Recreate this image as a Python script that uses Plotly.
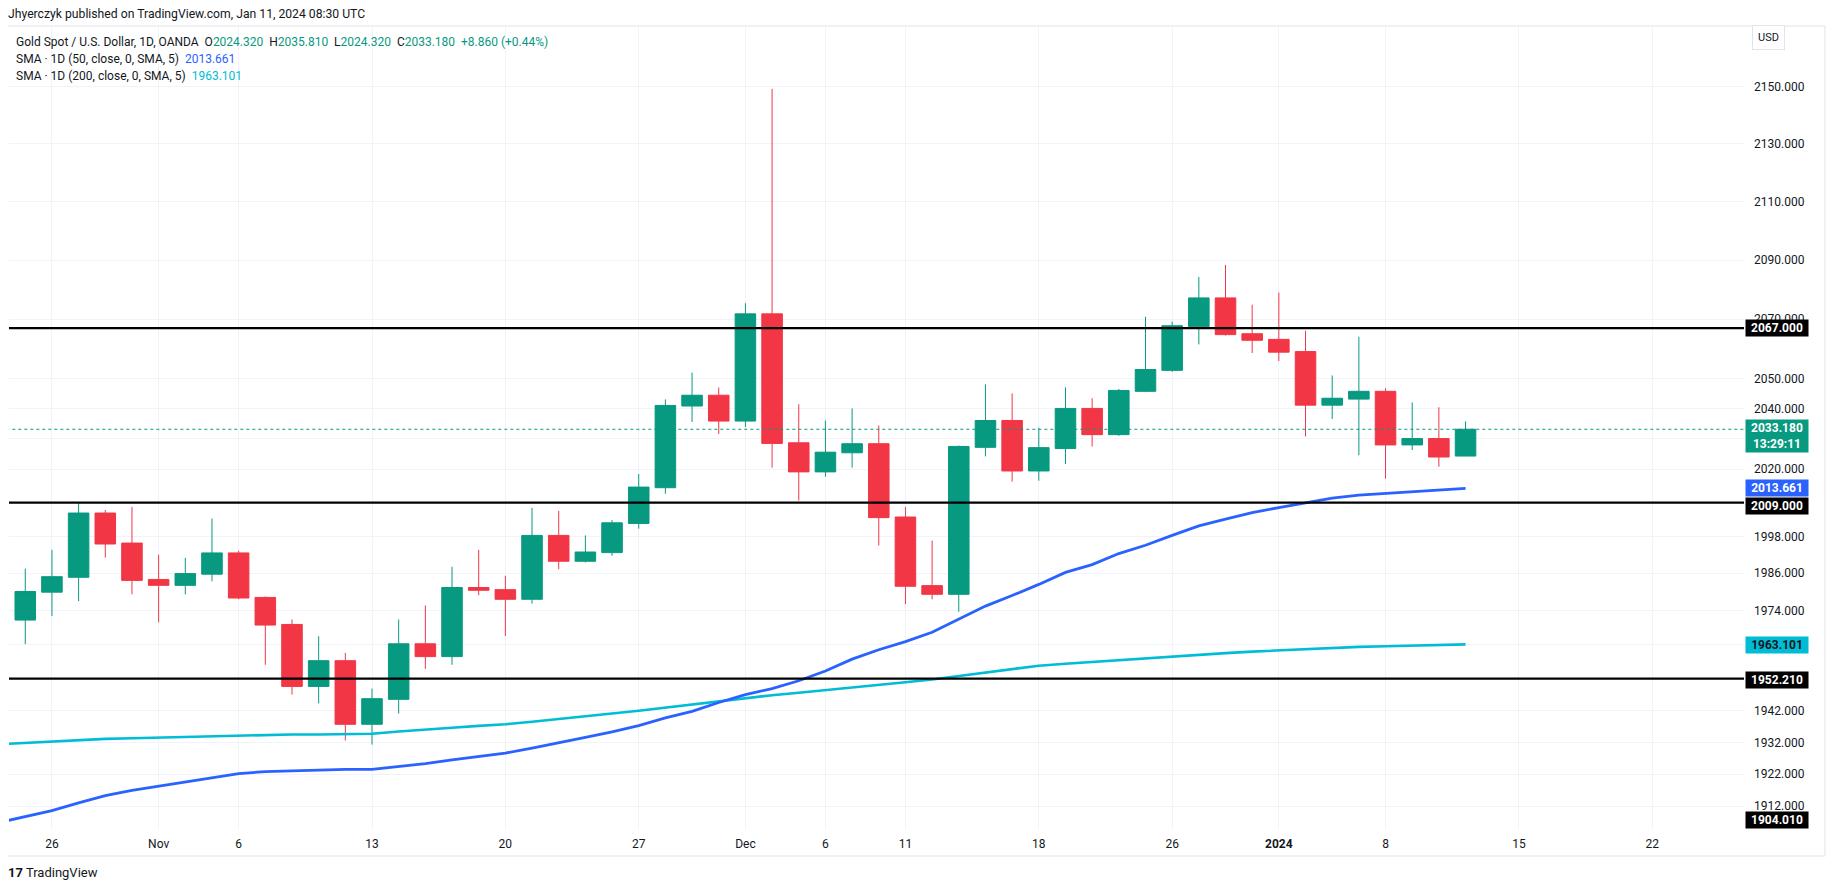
import math
import pandas as pd
import plotly.graph_objects as go

# ---------------- data ----------------
dates = ["2023-10-25","2023-10-26","2023-10-27","2023-10-30","2023-10-31",
         "2023-11-01","2023-11-02","2023-11-03","2023-11-06","2023-11-07","2023-11-08","2023-11-09","2023-11-10",
         "2023-11-13","2023-11-14","2023-11-15","2023-11-16","2023-11-17","2023-11-20","2023-11-21","2023-11-22",
         "2023-11-23","2023-11-24","2023-11-27","2023-11-28","2023-11-29","2023-11-30","2023-12-01",
         "2023-12-04","2023-12-05","2023-12-06","2023-12-07","2023-12-08","2023-12-11","2023-12-12","2023-12-13",
         "2023-12-14","2023-12-15","2023-12-18","2023-12-19","2023-12-20","2023-12-21","2023-12-22",
         "2023-12-26","2023-12-27","2023-12-28","2023-12-29","2024-01-02","2024-01-03","2024-01-04","2024-01-05",
         "2024-01-08","2024-01-09","2024-01-10","2024-01-11"]
opens = [1970.9,1979.9,1984.7,2005.6,1995.8,1984.0,1982.1,1985.7,1992.6,1978.2,1969.5,1949.7,1957.9,
         1937.7,1945.6,1963.3,1959.2,1981.4,1980.7,1977.6,1998.3,1989.9,1992.7,2002.2,2013.9,2040.9,2044.5,2035.9,
         2071.8,2028.7,2019.1,2025.4,2028.4,2004.3,1982.0,1979.2,2027.2,2036.1,2019.4,2026.8,2040.1,2031.4,2045.8,
         2052.8,2067.5,2077.2,2065.1,2063.2,2059.1,2041.2,2043.2,2045.8,2028.0,2030.1,2024.32]
highs = [1987.5,1993.6,2009.2,2006.6,2007.6,1992.0,1991.0,2003.8,1993.3,1978.5,1971.1,1965.7,1960.4,
         1949.0,1971.1,1975.6,1988.1,1993.6,1985.2,2007.3,2006.3,1998.3,2003.3,2018.4,2043.1,2052.1,2047.1,2075.4,
         2149.2,2041.5,2036.1,2040.1,2034.4,2007.6,1996.6,2027.8,2048.1,2045.1,2033.7,2047.1,2043.5,2046.6,2070.8,
         2069.2,2084.3,2088.4,2074.9,2079.0,2066.1,2051.1,2064.1,2046.8,2042.1,2040.5,2035.81]
lows = [1963.2,1972.2,1977.0,1991.1,1979.2,1970.2,1979.2,1983.4,1977.6,1956.6,1947.1,1944.3,1932.6,
        1931.3,1941.1,1955.3,1956.6,1978.9,1965.8,1976.2,1987.3,1989.5,1991.7,2000.5,2011.9,2035.6,2031.6,2033.9,
        2020.5,2009.7,2017.5,2020.5,1995.0,1976.0,1977.6,1973.6,2024.2,2015.9,2016.2,2021.7,2027.5,2031.0,2045.5,
        2052.3,2061.5,2064.5,2058.6,2055.9,2030.8,2036.6,2024.6,2016.9,2026.3,2020.8,2024.32]
closes = [1980.1,1984.9,2005.6,1995.5,1983.7,1982.1,1985.9,1992.6,1978.0,1969.3,1949.7,1957.9,1937.7,
          1945.8,1963.3,1959.2,1981.4,1980.5,1977.6,1998.3,1989.9,1992.9,2002.4,2014.1,2041.1,2044.5,2035.9,2071.8,
          2028.5,2019.1,2025.6,2028.4,2004.1,1981.8,1979.2,2027.5,2036.1,2019.4,2027.1,2040.1,2031.4,2046.1,2053.1,
          2067.8,2077.2,2064.8,2062.9,2058.9,2041.2,2043.5,2045.8,2028.0,2030.1,2024.0,2033.18]

# SMA values start one session earlier (2023-10-24) so the lines enter from the left edge
sma_dates = ["2023-10-24"] + dates
sma50 = [1906.9,1908.8,1910.6,1913.0,1915.3,1916.9,1918.2,1919.5,1921.0,1922.2,1922.8,1923.1,1923.4,1923.5,
         1923.5,1924.3,1925.3,1926.5,1927.6,1928.6,1930.2,1931.8,1933.6,1935.3,1937.3,1939.7,1941.8,1944.6,
         1947.1,1949.0,1951.5,1954.6,1958.4,1961.4,1964.0,1967.0,1971.3,1975.4,1978.8,1982.4,1986.3,1988.8,
         1992.4,1995.1,1998.3,2001.4,2003.6,2005.7,2007.4,2009.0,2010.5,2011.5,2012.1,2012.7,2013.2,2013.661]
sma200 = [1931.4,1931.8,1932.4,1932.8,1933.1,1933.3,1933.5,1933.8,1934.0,1934.2,1934.3,1934.5,1934.5,1934.7,
          1934.7,1935.4,1936.1,1936.6,1937.2,1937.7,1938.5,1939.3,1940.1,1941.1,1942.0,1943.0,1944.1,1945.1,
          1946.1,1946.9,1947.7,1948.5,1949.2,1950.1,1951.0,1951.9,1953.0,1954.2,1955.3,1956.3,1956.9,1957.5,
          1958.0,1958.7,1959.2,1959.8,1960.3,1960.8,1961.2,1961.6,1961.9,1962.3,1962.5,1962.7,1962.9,1963.101]

hlines = [2067.0, 2009.0, 1952.21]
bottom_line_label = 1904.01

ytick_vals = [2150, 2130, 2110, 2090, 2070, 2050, 2040, 2030, 2020, 1998, 1986, 1974, 1963, 1942, 1932, 1922, 1912]
ytick_hidden = [2030, 1963]   # labels covered by price boxes in the original
xtick_dates = ["2023-10-26","2023-11-01","2023-11-06","2023-11-13","2023-11-20","2023-11-27","2023-12-01",
               "2023-12-06","2023-12-11","2023-12-18","2023-12-26","2024-01-02","2024-01-08","2024-01-15","2024-01-22"]
xtick_text = ["26","Nov","6","13","20","27","Dec","6","11","18","26","<b>2024</b>","8","15","22"]
holidays = ["2023-12-25", "2024-01-01"]

# ---------------- styling ----------------
W, H = 1835, 891
OX, OY = 8, 8                    # page body margin around the figure div
PL, PT, PW, PH = 9, 27, 1735, 802  # plot area in page pixels
ML, MT = PL - OX, PT - OY
MR, MB = W - ML - PW, H - MT - PH
FONT = "Roboto, Open Sans, sans-serif"
TXT = "#131722"
UP, DN = "#089981", "#F23645"
BLUE, CYAN = "#2962FF", "#00BCD4"
GRID = "#F0F3FA"

# trading-session calendar (index axis, no gaps for weekends/holidays)
cal = [d.strftime("%Y-%m-%d") for d in pd.bdate_range("2023-10-24", "2024-01-31")]
cal = [d for d in cal if d not in holidays]
pos = {d: i for i, d in enumerate(cal)}
xc = [pos[d] for d in dates]
xs = [pos[d] for d in sma_dates]

def px(xp, yp):
    """page pixel -> paper coords"""
    return (xp - PL) / PW, (PT + PH - yp) / PH

fig = go.Figure()

fig.add_trace(go.Candlestick(
    x=xc, open=opens, high=highs, low=lows, close=closes,
    increasing=dict(line=dict(color=UP, width=1), fillcolor=UP),
    decreasing=dict(line=dict(color=DN, width=1), fillcolor=DN),
    whiskerwidth=0, showlegend=False, hoverinfo="skip"))

fig.add_trace(go.Scatter(x=xs, y=sma200, mode="lines", line=dict(color=CYAN, width=2.6),
                         showlegend=False, hoverinfo="skip"))
fig.add_trace(go.Scatter(x=xs, y=sma50, mode="lines", line=dict(color=BLUE, width=2.8),
                         showlegend=False, hoverinfo="skip"))

xr = [0.39, 65.44]
for v in hlines:
    fig.add_trace(go.Scatter(x=[xr[0] - 1, xr[1] + 1], y=[v, v], mode="lines",
                             line=dict(color="#000000", width=2.2), showlegend=False, hoverinfo="skip"))
# last price dotted line
fig.add_trace(go.Scatter(x=[xr[0] - 1, xr[1] + 1], y=[closes[-1]] * 2, mode="lines",
                         line=dict(color=UP, width=1, dash="dot"), showlegend=False, hoverinfo="skip"))

ylo, yhi = 1904.9, 2171.0
fig.update_layout(
    width=W, height=H, margin=dict(l=ML, r=MR, t=MT, b=MB, autoexpand=False),
    paper_bgcolor="white", plot_bgcolor="white", boxgap=0.23, boxgroupgap=0,
    font=dict(family=FONT, color=TXT, size=12),
    xaxis=dict(range=xr, tickvals=[pos[d] for d in xtick_dates], ticktext=xtick_text,
               showgrid=True, gridcolor=GRID, gridwidth=1, zeroline=False, showline=False,
               rangeslider=dict(visible=False), ticks="", ticklabelstandoff=6,
               tickfont=dict(size=12, color=TXT, family=FONT)),
    yaxis=dict(type="log", range=[math.log10(ylo), math.log10(yhi)], side="right",
               tickvals=ytick_vals,
               ticktext=["" if v in ytick_hidden else f"{v:.3f}" for v in ytick_vals],
               showgrid=True, gridcolor=GRID, gridwidth=1, zeroline=False, showline=False,
               ticks="", ticklabelstandoff=9, tickfont=dict(size=12, color=TXT, family=FONT)),
)

# outer pane border
x0, y0 = px(5, 26)
x1, y1 = px(1825, 856)
fig.add_shape(type="rect", xref="paper", yref="paper", x0=x0, y0=y1, x1=x1, y1=y0,
              line=dict(color="#E0E3EB", width=1), fillcolor="rgba(0,0,0,0)", layer="below")

# price-scale label boxes
bx, _ = px(1745, 0)
def plabel(val, bg, fg="white", yshift=0, text=None, yref_paper=None):
    t = text if text is not None else f"{val:.3f}"
    kw = dict(xref="paper", x=bx, xanchor="left", showarrow=False, text=t,
              bgcolor=bg, font=dict(color=fg, size=12, family=FONT, weight="bold"),
              width=60, borderpad=1, align="center", yshift=yshift, yanchor="middle")
    if yref_paper is not None:
        kw.update(yref="paper", y=yref_paper)
    else:
        kw.update(yref="y", y=math.log10(val))
    fig.add_annotation(**kw)

plabel(2067.0, "#000000")
plabel(closes[-1], UP, text=f"{closes[-1]:.3f}<br>13:29:11", yshift=-7)
plabel(sma50[-1], BLUE)
plabel(2009.0, "#000000", yshift=-3)
plabel(sma200[-1], CYAN, fg="#131722", yshift=-1)
plabel(1952.21, "#000000", yshift=-1)
plabel(bottom_line_label, "#000000", yref_paper=px(0, 820)[1])

# header texts
def htext(xp, yp, text, size=12):
    xa, ya = px(xp, yp)
    fig.add_annotation(xref="paper", yref="paper", x=xa, y=ya, xanchor="left", yanchor="middle",
                       showarrow=False, text=text, font=dict(size=size, color=TXT, family=FONT), align="left")

def g(s):
    return f'<span style="color:{UP}">{s}</span>'

chg = closes[-1] - opens[-1]
pct = chg / opens[-1] * 100
htext(6, 14, "Jhyerczyk published on TradingView.com, Jan 11, 2024 08:30 UTC", 12.2)
htext(14, 42, "Gold Spot / U.S. Dollar, 1D, OANDA  O" + g(f"{opens[-1]:.3f}") + "  H" + g(f"{highs[-1]:.3f}")
      + "  L" + g(f"{lows[-1]:.3f}") + "  C" + g(f"{closes[-1]:.3f}") + "  " + g(f"+{chg:.3f} (+{pct:.2f}%)"))
htext(14, 59, f'SMA · 1D (50, close, 0, SMA, 5)  <span style="color:{BLUE}">{sma50[-1]:.3f}</span>')
htext(14, 76, f'SMA · 1D (200, close, 0, SMA, 5)  <span style="color:#00BCD4">{sma200[-1]:.3f}</span>')
htext(6, 873, "<b>17</b> TradingView", 13)

ux, uy = px(1768, 38)
fig.add_annotation(xref="paper", yref="paper", x=ux, y=uy, xanchor="center", yanchor="middle",
                   showarrow=False, text="USD", font=dict(size=11, color=TXT, family=FONT),
                   bordercolor="#E0E3EB", borderwidth=1, borderpad=5, bgcolor="white")

fig.write_html("out.html")
